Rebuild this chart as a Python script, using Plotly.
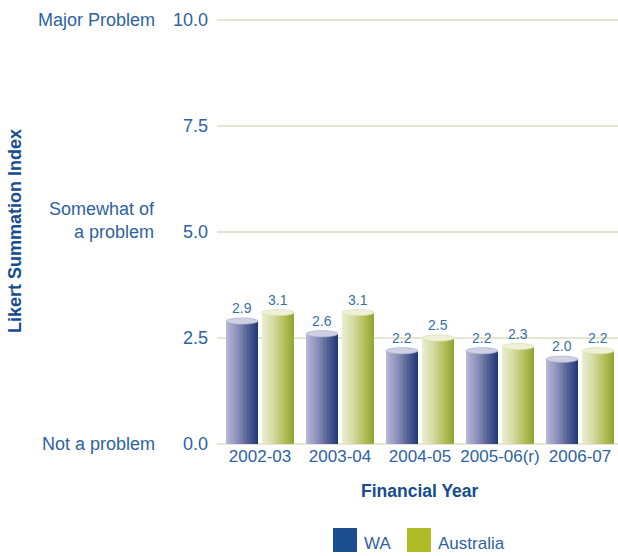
import plotly.graph_objects as go

# Chart data
years = ["2002-03", "2003-04", "2004-05", "2005-06(r)", "2006-07"]
wa = [2.9, 2.6, 2.2, 2.2, 2.0]
australia = [3.1, 3.1, 2.5, 2.3, 2.2]
series_names = ["WA", "Australia"]
y_ticks = [0.0, 2.5, 5.0, 7.5, 10.0]
level_values = [0.0, 5.0, 10.0]
level_labels = ["Not a problem", "Somewhat of<br>a problem", "Major Problem"]

FONT = "Liberation Sans, Arial, sans-serif"
TICK_BLUE = "#2d62a3"
TITLE_BLUE = "#164c8e"
LABEL_BLUE = "#3a6ea8"
GRID = "#e3e6d1"

W, H = 618, 556
ML, MR, MT, MB = 217, 0, 18, 112
PLOT_W = W - ML - MR
PLOT_H = H - MT - MB
PX_PER_CAT = 80.0
x0_range = -43.0 / PX_PER_CAT
x_range = [x0_range, x0_range + PLOT_W / PX_PER_CAT]
Y_MAX = 10.05

BAR_W = 0.4
GAP = 0.05
N_STRIPS = 22

# cylinder shading: left (light) -> right (dark)
gradients = {
    "WA": [(0.0, (186, 188, 216)), (0.35, (142, 146, 188)), (0.7, (84, 96, 148)), (1.0, (30, 58, 118))],
    "Australia": [(0.0, (236, 238, 212)), (0.35, (214, 220, 164)), (0.7, (180, 190, 94)), (1.0, (150, 164, 52))],
}
top_colors = {"WA": "#cfd0e3", "Australia": "#eef0d7"}
top_edges = {"WA": "#a6a9c8", "Australia": "#d6dba8"}
legend_colors = {"WA": "#1c4f91", "Australia": "#afbb26"}


def grad_color(stops, t):
    for (t0, c0), (t1, c1) in zip(stops[:-1], stops[1:]):
        if t <= t1:
            f = (t - t0) / (t1 - t0) if t1 > t0 else 0
            c = [round(a + (b - a) * f) for a, b in zip(c0, c1)]
            return "rgb(%d,%d,%d)" % tuple(c)
    return "rgb(%d,%d,%d)" % stops[-1][1]


def paper_y(px):
    """Convert a pixel row of the page to a paper y fraction."""
    return (MT + PLOT_H - px) / PLOT_H


fig = go.Figure()
xs = list(range(len(years)))
shapes = []
annotations = []

for name, values, start in [("WA", wa, -GAP / 2 - BAR_W), ("Australia", australia, GAP / 2)]:
    sw = BAR_W / N_STRIPS
    for i in range(N_STRIPS):
        t = (i + 0.5) / N_STRIPS
        w = sw * (1.35 if i < N_STRIPS - 1 else 1.0)
        fig.add_trace(go.Bar(
            x=xs, y=values, width=[w] * len(xs), offset=start + i * sw,
            marker=dict(color=grad_color(gradients[name], t), line=dict(width=0)),
            showlegend=False, hoverinfo="skip",
        ))
    for xi, v in zip(xs, values):
        # elliptical cylinder top
        shapes.append(dict(
            type="circle", xref="x", yref="y",
            x0=xi + start, x1=xi + start + BAR_W, y0=v - 0.075, y1=v + 0.075,
            fillcolor=top_colors[name], line=dict(color=top_edges[name], width=0.6),
            layer="above",
        ))
        # value label
        annotations.append(dict(
            xref="x", yref="y", x=xi + start + BAR_W / 2, y=v, yshift=13,
            text="%.1f" % v, showarrow=False, xanchor="center", yanchor="middle",
            font=dict(family=FONT, size=14, color=LABEL_BLUE),
        ))

# qualitative scale labels to the left of the numeric ticks
for v, lab in zip(level_values, level_labels):
    n_lines = lab.count("<br>") + 1
    annotations.append(dict(
        xref="paper", yref="y", x=-60.0 / PLOT_W, y=v, text=lab,
        xanchor="right", yanchor="middle", align="right", showarrow=False,
        yshift=12 * (n_lines - 1),
        font=dict(family=FONT, size=18, color=TICK_BLUE),
    ))

# axis titles
annotations.append(dict(
    xref="paper", yref="paper", x=(15 - ML) / PLOT_W, y=paper_y(231),
    text="<b>Likert Summation Index</b>", textangle=-90, showarrow=False,
    xanchor="center", yanchor="middle",
    font=dict(family=FONT, size=18, color=TITLE_BLUE),
))
annotations.append(dict(
    xref="paper", yref="paper", x=(420 - ML) / PLOT_W, y=paper_y(491),
    text="<b>Financial Year</b>", showarrow=False, xanchor="center", yanchor="middle",
    font=dict(family=FONT, size=17.5, color=TITLE_BLUE),
))

# legend swatches
legend_x = [333, 407]
for name, lx in zip(series_names, legend_x):
    shapes.append(dict(
        type="rect", xref="paper", yref="paper",
        x0=(lx - ML) / PLOT_W, x1=(lx + 24 - ML) / PLOT_W,
        y0=paper_y(552), y1=paper_y(528),
        fillcolor=legend_colors[name], line=dict(width=0),
    ))
    annotations.append(dict(
        xref="paper", yref="paper", x=(lx + 29 - ML) / PLOT_W, y=paper_y(543),
        text=name, showarrow=False, xanchor="left", yanchor="middle",
        font=dict(family=FONT, size=17, color=TICK_BLUE),
    ))

fig.update_layout(
    width=W, height=H,
    margin=dict(l=ML, r=MR, t=MT, b=MB),
    paper_bgcolor="white", plot_bgcolor="white",
    barmode="overlay", bargap=0,
    showlegend=False,
    shapes=shapes, annotations=annotations,
    xaxis=dict(
        range=x_range, tickvals=xs, ticktext=years,
        showgrid=False, zeroline=False, showline=False, ticks="",
        tickfont=dict(family=FONT, size=17, color=TICK_BLUE),
    ),
    yaxis=dict(
        range=[0, Y_MAX], tickvals=y_ticks, ticktext=["%.1f" % t for t in y_ticks],
        showgrid=True, gridcolor=GRID, gridwidth=1.5,
        zeroline=True, zerolinecolor=GRID, zerolinewidth=1.5,
        showline=False, ticks="", ticklabelstandoff=8,
        tickfont=dict(family=FONT, size=18, color=TICK_BLUE),
    ),
)

fig.write_html("out.html")
